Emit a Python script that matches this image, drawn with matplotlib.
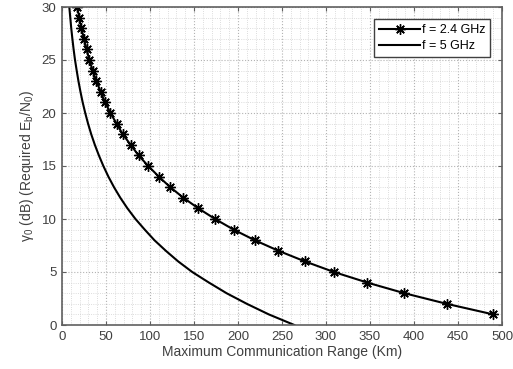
import numpy as np
import matplotlib.pyplot as plt
from matplotlib.ticker import MultipleLocator

# required Eb/N0 in dB
gamma_24 = list(range(1, 31))
range_24 = [490, 437, 389, 347, 309, 276, 246, 219, 195, 174,
            155, 138, 123, 110, 98, 87, 78, 69, 62, 55,
            49, 44, 39, 35, 31, 28, 25, 22, 19.5, 17.4]

gamma_5 = list(range(0, 31))
range_5 = [264, 235, 210, 187, 167, 148, 132, 118, 105, 94,
           83.5, 74.4, 66.3, 59.1, 52.7, 47, 41.9, 37.3, 33.2, 29.6,
           26.4, 23.5, 21, 18.7, 16.7, 14.8, 13.2, 11.8, 10.5, 9.4, 8.3]

labels = ['f = 2.4 GHz', 'f = 5 GHz']

plt.rcParams['font.family'] = ['Liberation Sans', 'DejaVu Sans']
plt.rcParams['mathtext.fontset'] = 'custom'
plt.rcParams['mathtext.rm'] = 'Liberation Sans'
plt.rcParams['mathtext.it'] = 'Liberation Sans:italic'

fig = plt.figure(figsize=(5.13, 3.69), dpi=100)
ax = fig.add_axes([62/513, 1-325/369, 440/513, 318/369])

ax.plot(range_24, gamma_24, color='black', lw=1.5, marker=(8, 2, 0),
        markersize=7.5, markeredgewidth=1.0, label=labels[0])
ax.plot(range_5, gamma_5, color='black', lw=1.5, label=labels[1])

ax.set_xlim(0, 500)
ax.set_ylim(0, 30)
ax.xaxis.set_major_locator(MultipleLocator(50))
ax.yaxis.set_major_locator(MultipleLocator(5))
ax.xaxis.set_minor_locator(MultipleLocator(10))
ax.yaxis.set_minor_locator(MultipleLocator(1))

ax.grid(which='major', linestyle=':', color='0.7', lw=0.8)
ax.grid(which='minor', linestyle=':', color='0.82', lw=0.6)
ax.set_axisbelow(True)

edge = '#606060'
for s in ax.spines.values():
    s.set_color(edge)
    s.set_linewidth(1.2)
ax.tick_params(which='major', direction='in', top=True, right=True,
               length=3, color=edge, labelcolor='#404040', labelsize=9.5, pad=4)
ax.tick_params(which='minor', length=0)

ax.set_xlabel('Maximum Communication Range (Km)', fontsize=10, color='#404040', labelpad=2)
ax.set_ylabel(r'$\mathregular{\gamma_0}$ (dB) (Required E$_\mathregular{b}$/N$_\mathregular{0}$)',
              fontsize=10, color='#404040', labelpad=4)

leg = ax.legend(loc='upper right', fontsize=9, handlelength=3.3, handletextpad=0.1,
                borderpad=0.4, labelspacing=0.35, fancybox=False, framealpha=1,
                edgecolor='#404040', borderaxespad=0.95)
leg.get_frame().set_linewidth(1.0)

fig.savefig('out.png', dpi=100)
